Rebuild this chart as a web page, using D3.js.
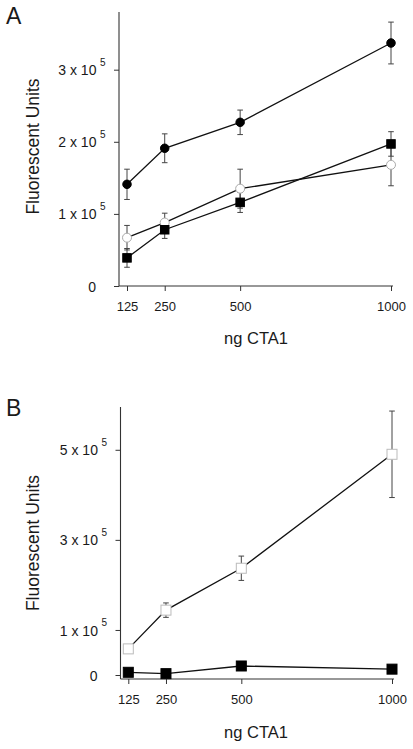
<!DOCTYPE html>
<html>
<head>
<meta charset="utf-8">
<script src="https://cdn.jsdelivr.net/npm/d3@7"></script>
<style>
  html, body { margin: 0; padding: 0; background: #fff; }
  svg { display: block; }
  text { font-family: "Liberation Sans", Arial, sans-serif; fill: #1a1a1a; }
</style>
</head>
<body>
<svg id="chart" width="413" height="749"></svg>
<script>
// ---------- data ----------
const doses = [125, 250, 500, 1000];
const xTickLabels = ["125", "250", "500", "1000"];

// Panel A
const aFilledCircle    = [1.41e5, 1.91e5, 2.27e5, 3.37e5];
const aFilledCircleErr = [0.21e5, 0.20e5, 0.17e5, 0.29e5];
const aOpenCircle      = [0.67e5, 0.88e5, 1.35e5, 1.68e5];
const aOpenCircleErr   = [0.17e5, 0.13e5, 0.27e5, 0.29e5];
const aFilledSquare    = [0.39e5, 0.78e5, 1.16e5, 1.97e5];
const aFilledSquareErr = [0.13e5, 0.12e5, 0.14e5, 0.17e5];
const aYTicks = [0, 1e5, 2e5, 3e5];
const aYMax = 3.8e5;

// Panel B
const bOpenSquare      = [0.58e5, 1.44e5, 2.37e5, 4.90e5];
const bOpenSquareErr   = [0, 0.16e5, 0.27e5, 0.96e5];
const bFilledSquare    = [0.06e5, 0.03e5, 0.20e5, 0.13e5];
const bFilledSquareErr = [0, 0, 0, 0];
const bYTicks = [0, 1e5, 3e5, 5e5];
const bYMax = 5.95e5;

const xLabel = "ng CTA1";
const yLabel = "Fluorescent Units";

// ---------- drawing ----------
const svg = d3.select("#chart");

function mantissa(v) { return v === 0 ? "0" : String(Math.round(v / 1e5)); }

function drawPanel(cfg) {
  const g = svg.append("g");
  const x = d3.scaleLinear().domain([125, 1000]).range([cfg.x125, cfg.x1000]);
  const y = d3.scaleLinear().domain([0, cfg.yMax]).range([cfg.y0, cfg.yTop]);
  const xAxisY = cfg.y0 + cfg.xAxisDrop;

  // axis lines
  g.append("line").attr("x1", cfg.axisX).attr("x2", cfg.axisX)
    .attr("y1", y(cfg.yMax)).attr("y2", xAxisY)
    .attr("stroke", "#333").attr("stroke-width", 1.1);
  g.append("line").attr("x1", cfg.axisX).attr("x2", x(1000) + 2)
    .attr("y1", xAxisY).attr("y2", xAxisY)
    .attr("stroke", "#333").attr("stroke-width", 1.1);

  // y axis
  const yAxis = d3.axisLeft(y).tickValues(cfg.yTicks).tickSize(5).tickSizeOuter(0)
    .tickFormat(() => "");
  const yg = g.append("g").attr("transform", `translate(${cfg.axisX},0)`).call(yAxis);
  yg.select(".domain").remove();
  yg.selectAll(".tick line").attr("stroke", "#333");
  yg.selectAll(".tick").each(function (d) {
    const t = d3.select(this);
    t.select("text").remove();
    if (d === 0) {
      t.append("text").attr("x", -23).attr("dy", "0.36em")
        .attr("text-anchor", "end").style("font-size", "14px").text("0");
    } else {
      const tx = t.append("text").attr("x", -13.5).attr("y", 0)
        .attr("text-anchor", "end").style("font-size", "14px");
      tx.append("tspan").attr("dy", "0.36em").text(mantissa(d) + " x 10");
      tx.append("tspan").attr("dx", 3.5).attr("dy", -9.5)
        .style("font-size", "10px").text("5");
    }
  });

  // x axis
  const xAxis = d3.axisBottom(x).tickValues(doses).tickSize(5).tickSizeOuter(0)
    .tickPadding(10.5).tickFormat((d, i) => xTickLabels[i]);
  const xg = g.append("g").attr("transform", `translate(0,${xAxisY})`).call(xAxis);
  xg.select(".domain").remove();
  xg.selectAll(".tick line").attr("stroke", "#333");
  xg.selectAll(".tick text").style("font-size", "13px").attr("fill", "#1a1a1a")
    .style("font-family", '"Liberation Sans", Arial, sans-serif');

  // labels
  g.append("text").attr("x", 6).attr("y", cfg.panelLetterY)
    .style("font-size", "23px").text(cfg.letter);
  g.append("text").attr("transform", `translate(38.5,${cfg.yLabelY}) rotate(-90)`)
    .attr("text-anchor", "middle").style("font-size", "17.5px").text(yLabel);
  g.append("text").attr("x", 256).attr("y", cfg.xLabelY)
    .attr("text-anchor", "middle").style("font-size", "16.5px").text(xLabel);

  const line = d3.line().x((d, i) => x(doses[i])).y(d => y(d));

  cfg.series.forEach(s => {
    g.append("path").datum(s.values).attr("d", line)
      .attr("fill", "none").attr("stroke", "#111").attr("stroke-width", 1.3);
  });

  cfg.series.forEach(s => {
    const eg = g.append("g").attr("stroke", "#444").attr("stroke-width", 1);
    s.values.forEach((v, i) => {
      const e = s.err[i];
      if (!e) return;
      const cx = x(doses[i]);
      eg.append("line").attr("x1", cx).attr("x2", cx).attr("y1", y(v + e)).attr("y2", y(v - e));
      eg.append("line").attr("x1", cx - 2.8).attr("x2", cx + 2.8).attr("y1", y(v + e)).attr("y2", y(v + e));
      eg.append("line").attr("x1", cx - 2.8).attr("x2", cx + 2.8).attr("y1", y(v - e)).attr("y2", y(v - e));
    });
  });

  cfg.series.forEach(s => {
    const mg = g.append("g");
    s.values.forEach((v, i) => {
      const cx = x(doses[i]), cy = y(v);
      if (s.shape === "circle") {
        mg.append("circle").attr("cx", cx).attr("cy", cy).attr("r", s.size / 2)
          .attr("fill", s.fill).attr("stroke", s.stroke).attr("stroke-width", 1);
      } else {
        mg.append("rect").attr("x", cx - s.size / 2).attr("y", cy - s.size / 2)
          .attr("width", s.size).attr("height", s.size)
          .attr("fill", s.fill).attr("stroke", s.stroke).attr("stroke-width", 1);
      }
    });
  });
}

drawPanel({
  letter: "A", panelLetterY: 24, yLabelY: 146.5, xLabelY: 344,
  axisX: 119, x125: 127, x1000: 391, y0: 286, yTop: 12, yMax: aYMax, xAxisDrop: 0,
  yTicks: aYTicks,
  series: [
    { values: aOpenCircle, err: aOpenCircleErr, shape: "circle", size: 9, fill: "#fff", stroke: "#aaa" },
    { values: aFilledSquare, err: aFilledSquareErr, shape: "square", size: 8.5, fill: "#000", stroke: "#000" },
    { values: aFilledCircle, err: aFilledCircleErr, shape: "circle", size: 8.5, fill: "#000", stroke: "#000" }
  ]
});

drawPanel({
  letter: "B", panelLetterY: 416, yLabelY: 543, xLabelY: 738,
  axisX: 120.5, x125: 128.3, x1000: 392, y0: 675, yTop: 407, yMax: bYMax, xAxisDrop: 4,
  yTicks: bYTicks,
  series: [
    { values: bOpenSquare, err: bOpenSquareErr, shape: "square", size: 10, fill: "#fff", stroke: "#bbb" },
    { values: bFilledSquare, err: bFilledSquareErr, shape: "square", size: 10, fill: "#000", stroke: "#000" }
  ]
});
</script>
</body>
</html>
